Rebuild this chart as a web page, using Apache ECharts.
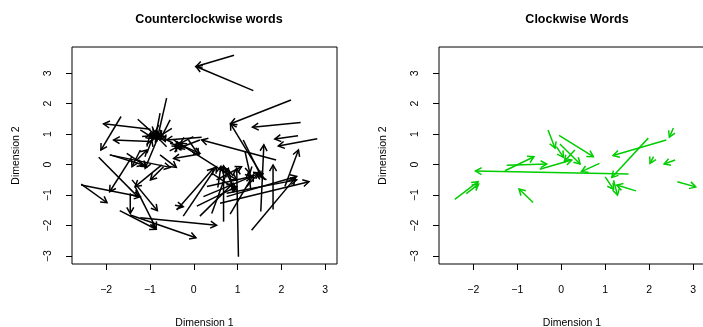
<!DOCTYPE html>
<html>
<head>
<meta charset="utf-8">
<script src="https://cdn.jsdelivr.net/npm/echarts@6/dist/echarts.min.js"></script>
<style>
  html, body { margin: 0; padding: 0; background: #fff; }
  #main { width: 703px; height: 327px; }
</style>
</head>
<body>
<div id="main"></div>
<script>
// tick positions (same on both panels)
var xTicks = [-2, -1, 0, 1, 2, 3];
var yTicks = [-3, -2, -1, 0, 1, 2, 3];

// arrows: [x start, y start, x end (head), y end]
var ccwArrows = [
  [0.92, 3.59, 0.05, 3.22],
  [1.36, 2.43, 0.05, 3.22],
  [2.22, 2.12, 0.84, 1.34],
  [2.44, 1.38, 1.34, 1.23],
  [2.38, 0.95, 1.85, 0.84],
  [2.82, 0.85, 1.93, 0.61],
  [2.08, -0.72, 2.39, 0.48],
  [1.53, -1.54, 1.60, 0.65],
  [1.81, -1.47, 1.81, -0.01],
  [1.02, -3.02, 0.98, -0.12],
  [1.88, 0.15, 0.18, 0.81],
  [1.62, -0.50, 0.84, 1.34],
  [1.32, -2.15, 2.31, -0.45],
  [0.60, -1.27, 2.63, -0.56],
  [0.75, -1.05, 2.35, -0.39],
  [-1.66, 1.58, -2.12, 0.48],
  [-0.99, 1.16, -2.06, 1.34],
  [-0.99, 0.76, -1.83, 0.81],
  [-0.62, 2.18, -0.84, 0.81],
  [-1.28, 1.49, -0.84, 0.92],
  [-2.57, -0.64, -1.98, -1.25],
  [-2.57, -0.67, -1.22, -1.05],
  [-1.69, -1.51, -0.86, -2.12],
  [-1.22, -1.74, 0.52, -1.99],
  [-1.45, -1.65, 0.05, -2.40],
  [-1.45, -0.94, -1.45, -1.60],
  [-1.41, 0.26, -1.92, -0.89],
  [-2.17, 0.24, -1.28, -1.05],
  [-1.41, -0.50, -0.83, -1.51],
  [-1.34, -0.72, -0.86, -2.09],
  [0.14, 0.35, -0.46, 0.20],
  [-1.91, 0.32, -1.15, -0.01],
  [-1.92, 0.32, -0.54, -0.09],
  [-0.77, 0.32, -0.40, -0.09],
  [-0.73, -0.01, -1.34, -0.72],
  [-0.84, 0.81, -1.11, -0.12],
  [-1.22, 1.14, -0.92, 0.86],
  [-0.77, 1.69, -0.88, 0.86],
  [-0.50, 1.19, -0.80, 0.92],
  [-1.07, 0.37, -0.96, 0.81],
  [-0.54, 1.47, -0.77, 0.81],
  [-1.18, 0.92, -0.77, 0.97],
  [-0.62, 0.59, -0.88, 0.97],
  [-0.77, 1.14, -0.65, 0.76],
  [-1.07, 0.59, -0.99, 1.03],
  [-0.70, 0.95, -0.90, 0.88],
  [-1.00, 0.70, -0.85, 0.95],
  [-0.80, 1.30, -0.92, 0.95],
  [-0.95, 1.25, -0.85, 0.90],
  [0.18, 0.90, -0.62, 0.81],
  [-0.01, 0.92, -0.31, 0.70],
  [0.14, 0.81, -0.35, 0.54],
  [-0.54, 0.70, -0.27, 0.59],
  [-0.31, 0.48, -0.43, 0.65],
  [-0.15, 0.55, -0.40, 0.62],
  [-0.55, 0.45, -0.35, 0.60],
  [-0.30, 0.75, -0.42, 0.55],
  [-0.46, 0.81, 0.98, -0.50],
  [-0.39, 0.70, 0.14, 0.37],
  [-0.12, 0.81, 0.11, 0.32],
  [-1.53, 0.37, -1.07, -0.07],
  [-1.22, 0.48, -1.41, -0.07],
  [-1.30, 0.15, -1.07, 0.48],
  [-0.69, -0.07, -0.99, -0.50],
  [-0.39, -1.49, 0.45, -0.12],
  [-0.24, -1.69, 0.52, -0.07],
  [0.14, -1.69, 0.90, -0.61],
  [0.41, -1.60, 0.79, -0.12],
  [0.68, -1.87, 0.68, -0.04],
  [0.83, -1.62, 1.36, -0.34],
  [0.07, -1.36, 0.98, -0.72],
  [0.22, -1.05, 1.51, -0.28],
  [0.30, -0.72, 1.32, -0.39],
  [0.55, -0.75, 0.62, -0.05],
  [1.30, -0.80, 1.25, -0.25],
  [0.90, -0.90, 0.80, -0.20],
  [-0.43, -1.33, -0.24, -1.38],
  [1.13, 0.81, 1.55, -0.42],
  [1.17, 0.43, 1.28, -0.28],
  [0.52, -0.50, 1.09, -0.07],
  [1.21, -0.72, 1.51, -0.23],
  [0.94, -0.83, 0.68, -0.07],
  [0.75, -0.94, 2.35, -0.50],
  [1.66, -0.50, 1.44, -0.28],
  [0.41, -0.28, 0.98, -0.83]
];

var cwArrows = [
  [-2.42, -1.14, -1.89, -0.56],
  [-2.16, -0.95, -1.88, -0.64],
  [1.53, -0.31, -1.95, -0.21],
  [-0.64, -1.24, -0.96, -0.80],
  [-1.28, -0.20, -0.62, 0.26],
  [-1.24, -0.02, -0.33, 0.02],
  [-0.49, -0.15, 0.24, 0.15],
  [-0.30, 1.14, -0.14, 0.54],
  [-0.05, 0.96, 0.73, 0.26],
  [-0.03, 0.68, 0.43, 0.02],
  [-0.11, 0.59, 0.05, 0.24],
  [0.31, 0.48, 0.07, 0.10],
  [0.87, 0.04, 0.46, -0.23],
  [1.98, 0.87, 1.15, -0.42],
  [2.39, 0.81, 1.18, 0.30],
  [2.55, 1.20, 2.46, 0.90],
  [2.10, 0.26, 2.02, 0.04],
  [2.59, 0.15, 2.34, 0.02],
  [2.64, -0.56, 3.06, -0.73],
  [1.00, -0.40, 1.19, -0.81],
  [1.70, -0.86, 1.26, -0.67],
  [1.19, -0.51, 1.28, -1.00]
];

var fontFam = '"Liberation Sans", Arial, sans-serif';

function minusFmt(v) {
  return String(v).replace('-', '\u2212');
}

// draw one R-style arrow (open head, 30 degrees)
function arrowItem(color) {
  return function (params, api) {
    var p0 = api.coord([api.value(0), api.value(1)]);
    var p1 = api.coord([api.value(2), api.value(3)]);
    var a = Math.atan2(p1[1] - p0[1], p1[0] - p0[0]);
    var L = 7, t = Math.PI / 6;
    var h1 = [p1[0] - L * Math.cos(a - t), p1[1] - L * Math.sin(a - t)];
    var h2 = [p1[0] - L * Math.cos(a + t), p1[1] - L * Math.sin(a + t)];
    return {
      type: 'group',
      children: [
        { type: 'line', shape: { x1: p0[0], y1: p0[1], x2: p1[0], y2: p1[1] },
          style: { stroke: color, lineWidth: 1.5 } },
        { type: 'polyline', shape: { points: [h1, p1, h2] },
          style: { stroke: color, lineWidth: 1.5, fill: null } }
      ]
    };
  };
}

function xAxisFor(gi) {
  return {
    gridIndex: gi,
    type: 'value',
    min: -2.78,
    max: 3.27,
    name: 'Dimension 1',
    nameLocation: 'middle',
    nameGap: 54,
    nameTextStyle: { color: '#000', fontSize: 10.5, fontFamily: fontFam },
    splitLine: { show: false },
    axisLine: { show: false, onZero: false },
    axisTick: { show: true, customValues: xTicks, length: 6, lineStyle: { color: '#000' } },
    axisLabel: { customValues: xTicks, formatter: minusFmt, color: '#000', fontSize: 10.5, fontFamily: fontFam, margin: 21 }
  };
}

function yAxisFor(gi) {
  return {
    gridIndex: gi,
    type: 'value',
    min: -3.26,
    max: 3.86,
    name: 'Dimension 2',
    nameLocation: 'middle',
    nameGap: 50,
    nameTextStyle: { color: '#000', fontSize: 10.5, fontFamily: fontFam },
    splitLine: { show: false },
    axisLine: { show: false, onZero: false },
    axisTick: { show: true, customValues: yTicks, length: 6, lineStyle: { color: '#000' } },
    axisLabel: { customValues: yTicks, formatter: minusFmt, rotate: 90, color: '#000', fontSize: 10.5, fontFamily: fontFam, margin: 18 }
  };
}

var myChart = echarts.init(document.getElementById('main'));
myChart.setOption({
  animation: false,
  backgroundColor: '#fff',
  title: [
    { text: 'Counterclockwise words', left: 204, top: 8, textAlign: 'center',
      textStyle: { fontSize: 12.5, fontWeight: 'bold', color: '#000', fontFamily: fontFam } },
    { text: 'Clockwise Words', left: 572, top: 8, textAlign: 'center',
      textStyle: { fontSize: 12.5, fontWeight: 'bold', color: '#000', fontFamily: fontFam } }
  ],
  grid: [
    { left: 72, top: 47, width: 265, height: 217, outerBoundsMode: 'none', containLabel: false,
      show: true, borderColor: '#000', borderWidth: 1, backgroundColor: 'transparent' },
    { left: 439, top: 47, width: 266, height: 217, outerBoundsMode: 'none', containLabel: false,
      show: true, borderColor: '#000', borderWidth: 1, backgroundColor: 'transparent' }
  ],
  xAxis: [xAxisFor(0), xAxisFor(1)],
  yAxis: [yAxisFor(0), yAxisFor(1)],
  series: [
    {
      type: 'custom', xAxisIndex: 0, yAxisIndex: 0, silent: true,
      encode: { x: [0, 2], y: [1, 3] },
      renderItem: arrowItem('#000'),
      data: ccwArrows
    },
    {
      type: 'custom', xAxisIndex: 1, yAxisIndex: 1, silent: true,
      encode: { x: [0, 2], y: [1, 3] },
      renderItem: arrowItem('#00cd00'),
      data: cwArrows
    }
  ]
});
</script>
</body>
</html>
